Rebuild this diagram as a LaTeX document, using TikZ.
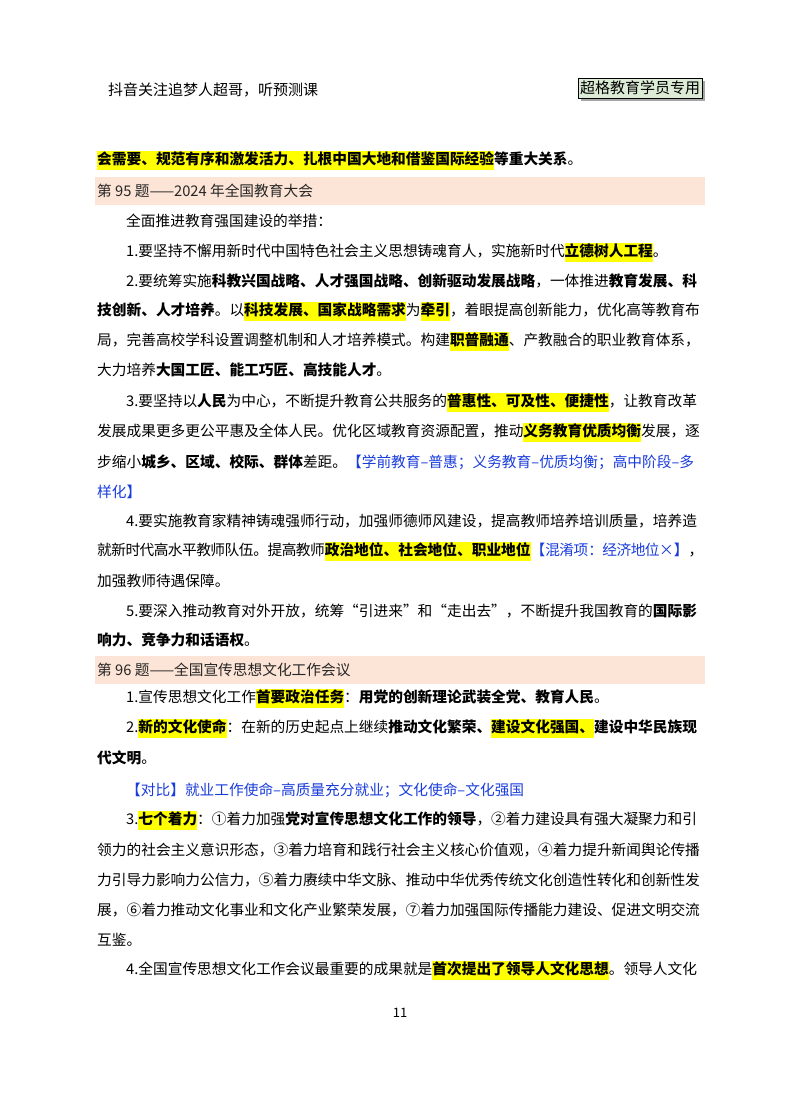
\documentclass[tikz,border=0pt]{standalone}
\usepackage{fontspec}
\setmainfont{Noto Sans CJK SC}
\XeTeXlinebreaklocale "zh"
\XeTeXlinebreakskip=0pt plus 2pt minus 1pt
\XeTeXinterchartokenstate=1
\newcommand\cjkg{\hskip0pt plus 2pt minus 1pt\relax}
\XeTeXinterchartoks 1 1 = {\cjkg}
\XeTeXinterchartoks 1 2 = {\cjkg}
\XeTeXinterchartoks 3 1 = {\cjkg}
\XeTeXinterchartoks 3 2 = {\cjkg}
\XeTeXinterchartoks 3 3 = {\cjkg}
\XeTeXinterchartoks 1 3 = {\cjkg}
\definecolor{hly}{RGB}{255,255,0}
\definecolor{pinkbar}{RGB}{252,228,214}
\definecolor{bluetxt}{RGB}{25,60,220}
\definecolor{boxgreen}{RGB}{220,235,213}
\newcommand\hlx[1]{{\setlength\fboxsep{0pt}\colorbox{hly}{\rule[-5pt]{0pt}{19pt}#1}}}
\newcommand\bl[1]{{\color{bluetxt}#1}}
\newcommand\ind{\hspace*{29pt}}
\newcommand\nopfs{\parfillskip=0pt\relax}
\tikzset{
  body/.style={anchor=west,inner sep=0pt,font=\fontsize{14.7pt}{17pt}\selectfont},
  full/.style={body,text width=606pt,align=justify},
  bar/.style={fill=pinkbar,draw=none}
}
\begin{document}
\begin{tikzpicture}[x=1pt,y=-1pt]
\useasboundingbox[fill=white] (0,0) rectangle (800,1114);
\node[body,font=\fontsize{15pt}{17pt}\selectfont] (hdr) at (108,90) {抖音关注追梦人超哥，听预测课};
\fill[gray!70] (581,81) rectangle (705,101);
\node[draw=black,line width=0.6pt,fill=boxgreen,minimum width=124pt,minimum height=20pt,inner sep=0pt,font=\fontsize{15pt}{17pt}\selectfont] (tag) at (640,88) {超格教育学员专用};

\node[body] (l1) at (97,160) {\hlx{\textbf{会需要、规范有序和激发活力、扎根中国大地和借鉴国际经验}}\textbf{等重大关系}。};
\fill[bar] (95,177) rectangle (705,205);
\node[body,text=black!85] (h95) at (97,191) {第 95 题——2024 年全国教育大会};
\node[body] (l2) at (97,221) {\ind 全面推进教育强国建设的举措：};
\node[body] (l3) at (97,252) {\ind 1.要坚持不懈用新时代中国特色社会主义思想铸魂育人，实施新时代\hlx{\textbf{立德树人工程}}。};
\node[full] (l4) at (97,281) {\nopfs\ind 2.要统筹实施\textbf{科教兴国战略、人才强国战略、创新驱动发展战略}，一体推进\textbf{教育发展、科}};
\node[full] (l5) at (97,311) {\nopfs\textbf{技创新、人才培养}。以\hlx{\textbf{科技发展、国家战略需求}}为\hlx{\textbf{牵引}}，着眼提高创新能力，优化高等教育布};
\node[full] (l6) at (97,341) {\nopfs 局，完善高校学科设置调整机制和人才培养模式。构建\hlx{\textbf{职普融通}}、产教融合的职业教育体系，};
\node[body] (l7) at (97,370) {大力培养\textbf{大国工匠、能工巧匠、高技能人才}。};
\node[full] (l8) at (97,402) {\nopfs\ind 3.要坚持以\textbf{人民}为中心，不断提升教育公共服务的\hlx{\textbf{普惠性、可及性、便捷性}}，让教育改革};
\node[full] (l9) at (97,432) {\nopfs 发展成果更多更公平惠及全体人民。优化区域教育资源配置，推动\hlx{\textbf{义务教育优质均衡}}发展，逐};
\node[full] (l10) at (97,462) {\nopfs 步缩小\textbf{城乡、区域、校际、群体}差距。\bl{【学前教育–普惠；义务教育–优质均衡；高中阶段–多}};
\node[body] (l11) at (97,492) {\bl{样化】}};
\node[full] (l12) at (97,521) {\nopfs\ind 4.要实施教育家精神铸魂强师行动，加强师德师风建设，提高教师培养培训质量，培养造};
\node[full] (l13) at (97,551) {\nopfs 就新时代高水平教师队伍。提高教师\hlx{\textbf{政治地位、社会地位、职业地位}}\bl{【混淆项：经济地位×】}，};
\node[body] (l14) at (97,581) {加强教师待遇保障。};
\node[full] (l15) at (97,611) {\nopfs\ind 5.要深入推动教育对外开放，统筹“引进来”和“走出去”，不断提升我国教育的\textbf{国际影}};
\node[body] (l16) at (97,640) {\textbf{响力、竞争力和话语权}。};
\fill[bar] (95,656) rectangle (705,684);
\node[body,text=black!85] (h96) at (97,670) {第 96 题——全国宣传思想文化工作会议};
\node[body] (m1) at (97,698) {\ind 1.宣传思想文化工作\hlx{\textbf{首要政治任务}}：\textbf{用党的创新理论武装全党、教育人民}。};
\node[full] (m2) at (97,728) {\nopfs\ind 2.\hlx{\textbf{新的文化使命}}：在新的历史起点上继续\textbf{推动文化繁荣、}\hlx{\textbf{建设文化强国、}}\textbf{建设中华民族现}};
\node[body] (m3) at (97,758) {\textbf{代文明}。};
\node[body] (m4) at (97,790) {\ind\bl{【对比】就业工作使命–高质量充分就业；文化使命–文化强国}};
\node[full] (m5) at (97,820) {\nopfs\ind 3.\hlx{\textbf{七个着力}}：①着力加强\textbf{党对宣传思想文化工作的领导}，②着力建设具有强大凝聚力和引};
\node[full] (m6) at (97,850) {\nopfs 领力的社会主义意识形态，③着力培育和践行社会主义核心价值观，④着力提升新闻舆论传播};
\node[full] (m7) at (97,880) {\nopfs 力引导力影响力公信力，⑤着力赓续中华文脉、推动中华优秀传统文化创造性转化和创新性发};
\node[full] (m8) at (97,910) {\nopfs 展，⑥着力推动文化事业和文化产业繁荣发展，⑦着力加强国际传播能力建设、促进文明交流};
\node[body] (m9) at (97,940) {互鉴。};
\node[full] (m10) at (97,970) {\nopfs\ind 4.全国宣传思想文化工作会议最重要的成果就是\hlx{\textbf{首次提出了领导人文化思想}}。领导人文化};
\node[inner sep=0pt,font=\fontsize{13pt}{15pt}\selectfont] (pg) at (400,1013) {11};
\end{tikzpicture}
\end{document}
